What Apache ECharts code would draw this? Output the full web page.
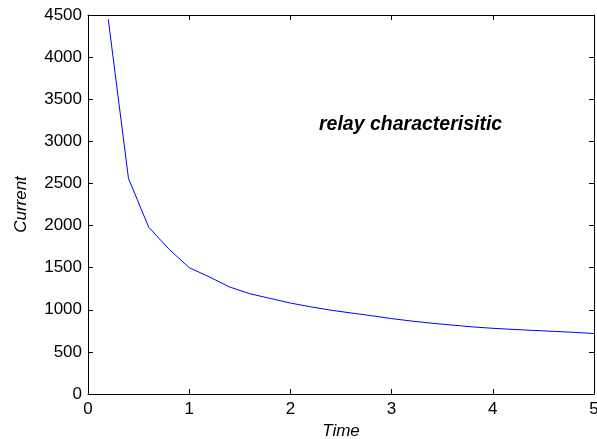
<!DOCTYPE html>
<html>
<head>
<meta charset="utf-8">
<script src="https://cdn.jsdelivr.net/npm/echarts@6/dist/echarts.min.js"></script>
<style>
  html, body { margin: 0; padding: 0; background: #fff; }
  #chart { width: 597px; height: 439px; }
</style>
</head>
<body>
<div id="chart"></div>
<script>
// Relay characteristic: current against operating time
const times = [0.2, 0.4, 0.6, 0.8, 1.0, 1.2, 1.4, 1.6, 1.8, 2.0, 2.2, 2.4, 2.6,
               2.8, 3.0, 3.2, 3.4, 3.6, 3.8, 4.0, 4.2, 4.4, 4.6, 4.8, 5.0];
const currents = [4450, 2560, 1980, 1720, 1500, 1390, 1270, 1190, 1135, 1080, 1035, 995, 962,
                  930, 895, 866, 840, 818, 797, 780, 767, 755, 744, 732, 718];
const xTicks = [0, 1, 2, 3, 4, 5];
const yTicks = [0, 500, 1000, 1500, 2000, 2500, 3000, 3500, 4000, 4500];
const titleText = 'relay characterisitic';
const xName = 'Time';
const yName = 'Current';

const FONT = '"Liberation Sans", Arial, sans-serif';
const chart = echarts.init(document.getElementById('chart'), null, { renderer: 'canvas' });

const axisLine = { show: true, onZero: false, lineStyle: { color: '#000', width: 1 } };
const axisTick = { show: true, inside: true, length: 5, lineStyle: { color: '#000', width: 1 } };

const xBase = {
  type: 'value',
  min: xTicks[0],
  max: xTicks[xTicks.length - 1],
  interval: 1,
  axisLine: axisLine,
  axisTick: axisTick,
  splitLine: { show: false }
};
const yBase = {
  type: 'value',
  min: yTicks[0],
  max: yTicks[yTicks.length - 1],
  interval: 500,
  axisLine: axisLine,
  axisTick: axisTick,
  splitLine: { show: false }
};

chart.setOption({
  animation: false,
  backgroundColor: '#fff',
  title: {
    text: titleText,
    left: 319,
    top: 115,
    padding: 0,
    textStyle: { fontFamily: FONT, fontSize: 19.5, fontWeight: 'bold', fontStyle: 'italic', color: '#000' }
  },
  grid: { left: 88, right: 3, top: 15, bottom: 45, containLabel: false, outerBoundsMode: 'none' },
  xAxis: [
    Object.assign({}, xBase, {
      position: 'bottom',
      name: xName,
      nameLocation: 'middle',
      nameGap: 28,
      nameTextStyle: { fontFamily: FONT, fontSize: 17, fontStyle: 'italic', color: '#000' },
      axisLabel: { show: true, margin: 7, fontFamily: FONT, fontSize: 17, color: '#000',
                   formatter: v => String(v) }
    }),
    Object.assign({}, xBase, { position: 'top', axisLabel: { show: false } })
  ],
  yAxis: [
    Object.assign({}, yBase, {
      position: 'left',
      name: yName,
      nameLocation: 'middle',
      nameGap: 58,
      nameRotate: 90,
      nameTextStyle: { fontFamily: FONT, fontSize: 17, fontStyle: 'italic', color: '#000' },
      axisLabel: { show: true, margin: 6, fontFamily: FONT, fontSize: 17, color: '#000',
                   formatter: v => String(v) }
    }),
    Object.assign({}, yBase, { position: 'right', axisLabel: { show: false } })
  ],
  series: [{
    type: 'line',
    data: times.map((t, i) => [t, currents[i]]),
    showSymbol: false,
    symbol: 'none',
    lineStyle: { color: '#0000ff', width: 1 },
    itemStyle: { color: '#0000ff' },
    clip: true
  }]
});
</script>
</body>
</html>
